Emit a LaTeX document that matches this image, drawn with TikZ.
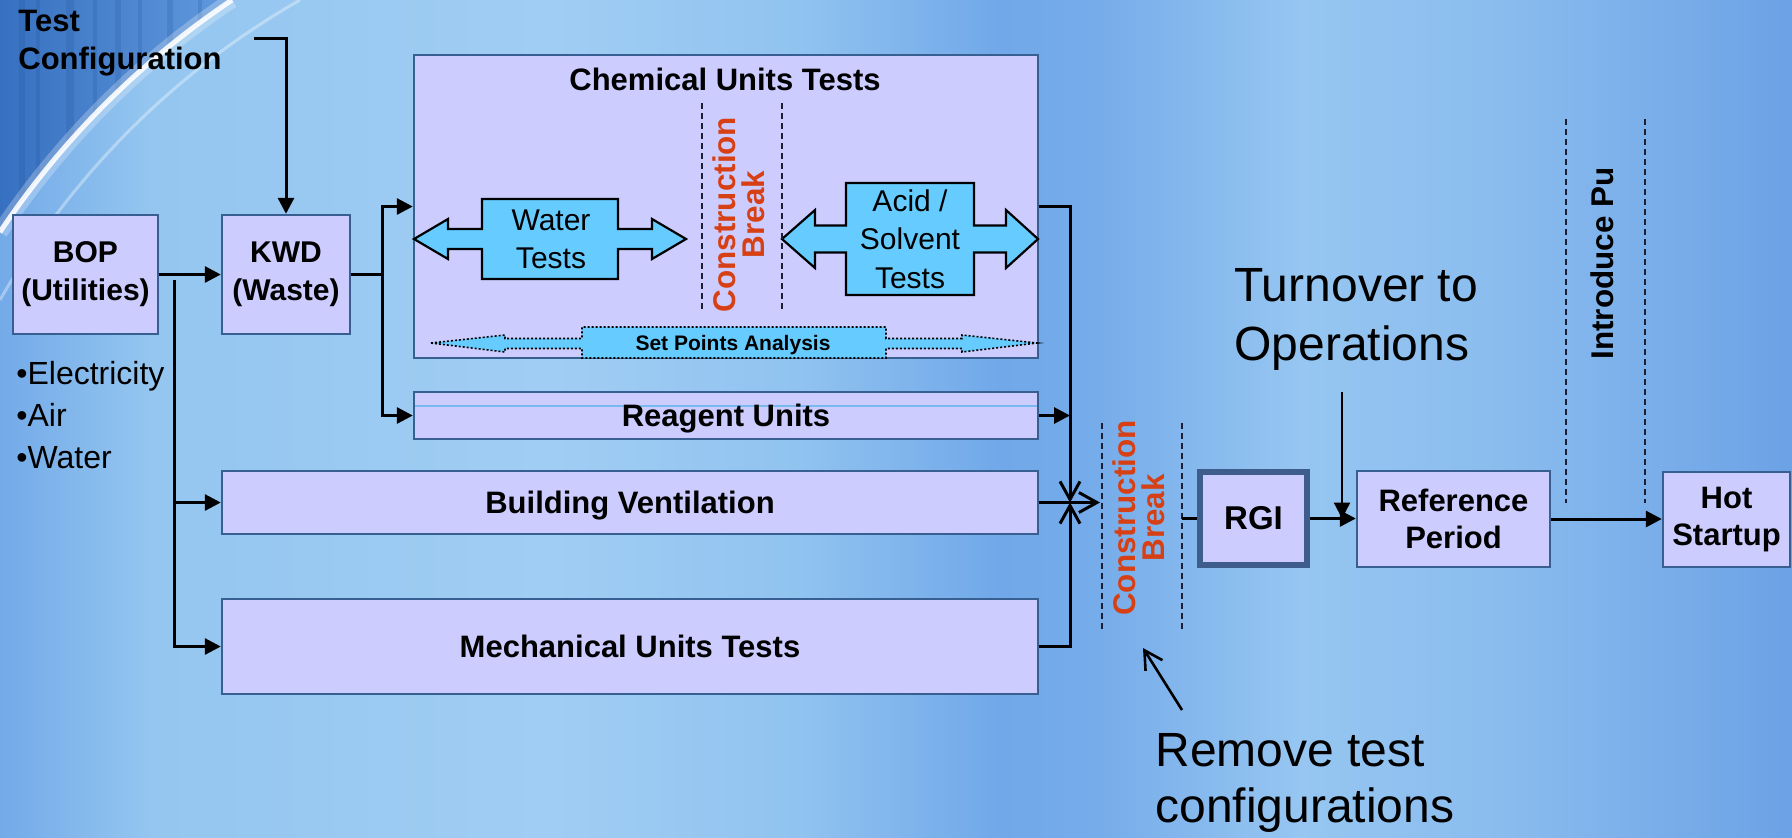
\documentclass[tikz,border=0pt]{standalone}
\usepackage{fontspec}
\setmainfont{Liberation Sans}
\usetikzlibrary{arrows.meta}
\definecolor{boxfill}{RGB}{204,204,255}
\definecolor{boxline}{RGB}{55,95,145}
\definecolor{rgiline}{RGB}{62,92,140}
\definecolor{arrowfill}{RGB}{102,204,255}
\definecolor{cbred}{RGB}{214,64,20}
\definecolor{dashcol}{RGB}{30,30,50}
\definecolor{bgA}{RGB}{115,170,232}
\definecolor{bgB}{RGB}{148,198,240}
\definecolor{bgC}{RGB}{160,205,243}
\definecolor{bgD}{RGB}{145,195,240}
\definecolor{bgE}{RGB}{112,168,233}
\definecolor{bgF}{RGB}{118,172,234}
\definecolor{bgG}{RGB}{150,198,241}
\definecolor{bgH}{RGB}{138,188,238}
\definecolor{bgI}{RGB}{108,162,230}
\definecolor{tlA}{RGB}{55,112,192}
\definecolor{tlB}{RGB}{98,155,222}
\definecolor{stripe}{RGB}{35,85,160}
\definecolor{innerline}{RGB}{120,185,240}
\newcommand{\lblfont}{\bfseries\fontsize{15.5}{18.5}\selectfont}
\newcommand{\tcfont}{\bfseries\fontsize{15.5}{19}\selectfont}
\newcommand{\bopfont}{\bfseries\fontsize{15}{19}\selectfont}
\newcommand{\cbfont}{\bfseries\fontsize{15.7}{14.5}\selectfont}
\newcommand{\arrfont}{\fontsize{15}{19.3}\selectfont}
\newcommand{\spfont}{\bfseries\fontsize{10.5}{12}\selectfont}
\newcommand{\bigfont}{\fontsize{24}{29.5}\selectfont}
\newcommand{\rmvfont}{\fontsize{24}{28}\selectfont}
\newcommand{\bulfont}{\fontsize{16}{21}\selectfont}
\newcommand{\rgifont}{\bfseries\fontsize{16.5}{20}\selectfont}
\begin{document}
\begin{tikzpicture}[x=0.5pt,y=-0.5pt,
  box/.style={draw=boxline, fill=boxfill, line width=1.2pt, inner sep=0pt, align=center, font=\lblfont},
  conn/.style={line width=1.5pt, -{Triangle[length=8pt,width=8pt]}},
  plain/.style={line width=1.5pt},
  barb/.style={line width=1.5pt, -{Straight Barb[length=9pt,width=10pt]}},
  breakline/.style={draw=dashcol, line width=0.9pt, dash pattern=on 3pt off 2pt},
  bluearrow/.style={draw=black, line width=1.1pt, fill=arrowfill, line join=miter},
  cbtext/.style={text=cbred, font=\cbfont, align=center, rotate=90, inner sep=0pt}]
\useasboundingbox (0,0) rectangle (1792,837);
% background
\shade[left color=bgA,right color=bgB] (0,0) rectangle (151,837);
\shade[left color=bgB,right color=bgC] (150,0) rectangle (551,837);
\shade[left color=bgC,right color=bgD] (550,0) rectangle (801,837);
\shade[left color=bgD,right color=bgE] (800,0) rectangle (1001,837);
\shade[left color=bgE,right color=bgF] (1000,0) rectangle (1101,837);
\shade[left color=bgF,right color=bgG] (1100,0) rectangle (1301,837);
\shade[left color=bgG,right color=bgH] (1300,0) rectangle (1501,837);
\shade[left color=bgH,right color=bgI] (1500,0) rectangle (1792,837);
\begin{scope}
\clip (0,0) -- (232,0) arc[start angle=123.76,end angle=146.24,radius=421pt] -- cycle;
\shade[left color=tlA,right color=tlB] (0,0) rectangle (240,240);
\foreach \sx/\sw in {22/3,38/2,70/4,95/2,118/3,140/2,170/3,200/2}
  \draw[stripe,opacity=0.22,line width=\sw pt] (\sx,0) -- (\sx,240);
\end{scope}
\draw[white,opacity=0.25,line width=8pt] (232,0) arc[start angle=123.76,end angle=146.24,radius=421pt];
\draw[white,opacity=0.9,line width=2.5pt] (232,0) arc[start angle=123.76,end angle=146.24,radius=421pt];
\draw[white,opacity=0.35,line width=1.5pt] (300,0) arc[start angle=119.74,end angle=150.26,radius=403pt];

% boxes
\node[box, font=\bopfont, minimum width=72.5pt, minimum height=59.5pt] (bop) at (85.5,274.5) {BOP\\(Utilities)};
\node[box, font=\bopfont, minimum width=64pt, minimum height=59.5pt] (kwd) at (286,274.5) {KWD\\(Waste)};
\node[box, minimum width=312pt, minimum height=151.5pt] (chem) at (726,206.5) {};
\node[box, minimum width=312pt, minimum height=23.5pt, text depth=0pt,
  path picture={\draw[innerline,line width=0.6pt] ([yshift=-7pt]path picture bounding box.north west) -- ([yshift=-7pt]path picture bounding box.north east);}]
  (reagent) at (726,415.5) {Reagent Units};
\node[box, minimum width=408pt, minimum height=31.5pt, text depth=0pt] (bv) at (630,502.5) {Building Ventilation};
\node[box, minimum width=408pt, minimum height=47.5pt] (mech) at (630,646.5) {Mechanical Units Tests};
\node[box, draw=rgiline, line width=3pt, font=\rgifont, minimum width=53.5pt, minimum height=46.5pt] (rgi) at (1253.5,518.5) {RGI};
\node[box, minimum width=96.5pt, minimum height=48pt] (rp) at (1453.5,519) {Reference\\Period};
\node[box, minimum width=63.5pt, minimum height=47.5pt] (hot) at (1726.5,519.5) {Hot\\Startup};

% chemical box content
\node[font=\lblfont, anchor=north, inner sep=0pt] (chemtitle) at (725,68) {Chemical Units Tests};
\draw[bluearrow] (414,239) -- (448,219) -- (448,229) -- (482,229) -- (482,199) -- (618,199) -- (618,229) -- (652,229) -- (652,219) -- (686,239) -- (652,259) -- (652,249) -- (618,249) -- (618,279) -- (482,279) -- (482,249) -- (448,249) -- (448,259) -- cycle;
\node[font=\arrfont, align=center, inner sep=0pt] (water) at (551,239.5) {Water\\Tests};
\draw[bluearrow] (782,239) -- (815,210) -- (815,225.5) -- (846,225.5) -- (846,183) -- (974,183) -- (974,225.5) -- (1006,225.5) -- (1006,210) -- (1038,239) -- (1006,268) -- (1006,252.5) -- (974,252.5) -- (974,295) -- (846,295) -- (846,252.5) -- (815,252.5) -- (815,268) -- cycle;
\node[font=\arrfont, align=center, inner sep=0pt] (acid) at (910,239) {Acid /\\Solvent\\Tests};
\draw[fill=arrowfill, draw=black, line width=0.8pt, dash pattern=on 1pt off 1pt] (431,343) -- (505,335) -- (505,338.5) -- (582,338.5) -- (582,327) -- (886,327) -- (886,338.5) -- (962,338.5) -- (962,335) -- (1037,343) -- (962,352) -- (962,348.5) -- (886,348.5) -- (886,358) -- (582,358) -- (582,348.5) -- (505,348.5) -- (505,352) -- cycle;
\node[font=\spfont, anchor=base, inner sep=0pt] (setpts) at (733,350) {Set Points Analysis};
\draw[breakline] (702,103) -- (702,310);
\draw[breakline] (782,103) -- (782,310);
\node[cbtext] (cb1) at (738.5,214.5) {Construction\\Break};

% right breaks
\draw[breakline] (1102,423) -- (1102,630);
\draw[breakline] (1182,423) -- (1182,630);
\node[cbtext] (cb2) at (1138.5,518) {Construction\\Break};
\draw[breakline] (1566,119) -- (1566,503);
\draw[breakline] (1645,119) -- (1645,503);
\node[font=\cbfont, rotate=90, inner sep=0pt] (pu) at (1602,263.5) {Introduce Pu};

% free texts
\node[font=\tcfont, align=left, anchor=north west, inner sep=0pt] (tc) at (18,10) {Test\\Configuration};
\node[font=\bulfont, align=left, anchor=north west, inner sep=0pt] (utils) at (16,361) {•Electricity\\•Air\\•Water};
\node[font=\bigfont, align=left, anchor=north west, inner sep=0pt] (turn) at (1234,268) {Turnover to\\Operations};
\node[font=\rmvfont, align=left, anchor=north west, inner sep=0pt] (remove) at (1155,733) {Remove test\\configurations};

% connectors
\coordinate (tcstart) at (254,38);
\draw[conn] (tcstart) -| (kwd.north);
\draw[conn] (bop.east) -- (kwd.west);
\coordinate (bopsplit) at (174,280);
\draw[conn] (bopsplit) |- (bv.west);
\draw[conn] (bopsplit) |- (mech.west);
\coordinate (kwdsplit) at (382,274.5);
\draw[plain] (kwd.east) -- (kwdsplit);
\draw[conn] (kwdsplit) |- (chem.west);
\draw[conn] (kwdsplit) |- (reagent.west);
\coordinate (merge) at (1070,502.5);
\coordinate (bvout) at (1100,502.5);
\draw[barb] (chem.east) -| (merge);
\draw[barb] (mech.east) -| (merge);
\draw[conn] (reagent.east) -- (reagent.east -| merge);
\draw[barb] (bv.east) -- (bvout);
\coordinate (cbright) at (1182,518.5);
\draw[plain] (cbright) -- (rgi.west);
\draw[conn] (rgi.east) -- (rgi.east -| rp.west);
\coordinate (tostart) at (1342,392);
\draw[conn, line width=1.2pt] (tostart) -- (tostart |- rgi.east);
\draw[conn] (rp.east) -- (rp.east -| hot.west);
\coordinate (rmstart) at (1182,710);
\coordinate (rmend) at (1143,648);
\draw[barb, line width=1.3pt] (rmstart) -- (rmend);
\end{tikzpicture}
\end{document}
